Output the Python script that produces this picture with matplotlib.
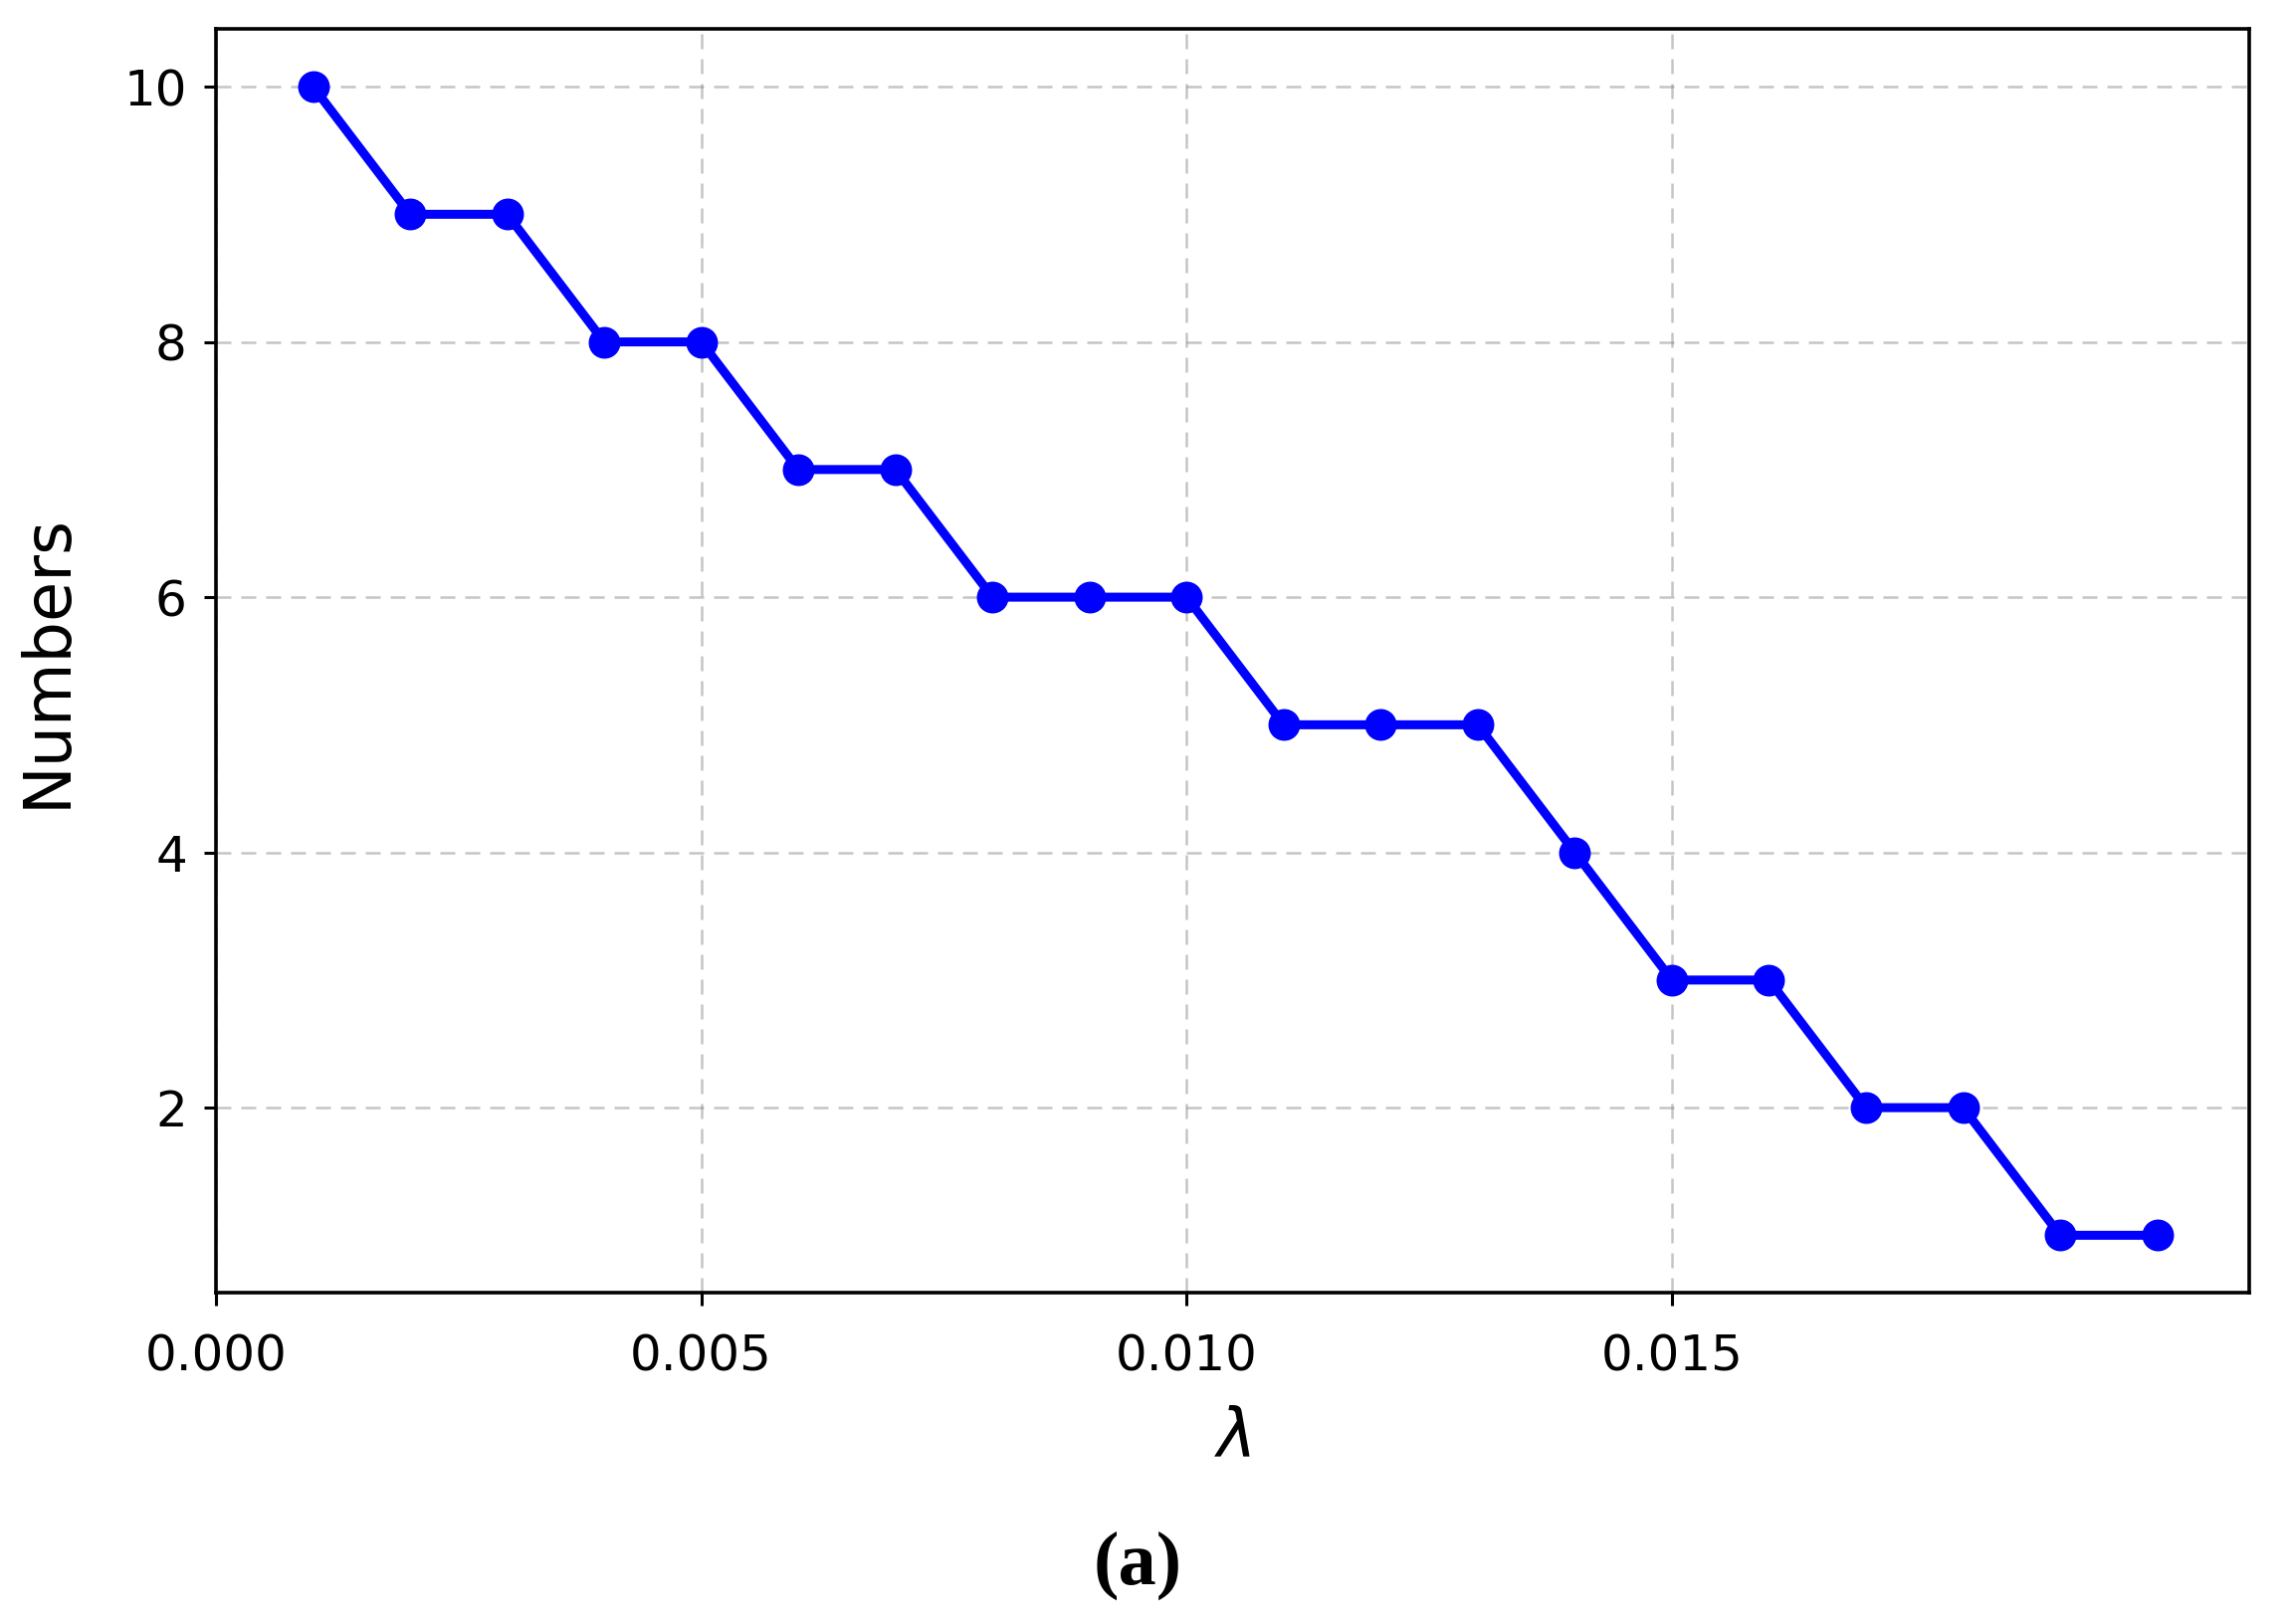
import numpy as np
import matplotlib
matplotlib.use("Agg")
import matplotlib.pyplot as plt

# ============== 数据 ==============
lam = [0.001, 0.002, 0.003, 0.004, 0.005, 0.006, 0.007, 0.008, 0.009, 0.010,
       0.011, 0.012, 0.013, 0.014, 0.015, 0.016, 0.017, 0.018, 0.019, 0.020]
numbers = [10, 9, 9, 8, 8, 7, 7, 6, 6, 6, 5, 5, 5, 4, 3, 3, 2, 2, 1, 1]
x_ticks = [0.000, 0.005, 0.010, 0.015]
y_ticks = [2, 4, 6, 8, 10]

# ============== 绘图 ==============
fig = plt.figure(figsize=(23.04, 16.32), dpi=100)
ax = fig.add_axes([0.0942, 0.204, 0.981 - 0.0942, 0.982 - 0.204])

ax.plot(lam, numbers, color='blue', marker='o', linewidth=6.5, markersize=22)

ax.set_xticks(x_ticks)
ax.set_yticks(y_ticks)
ax.set_xticklabels([f"{v:.3f}" for v in x_ticks])
ax.tick_params(labelsize=36, length=9, width=2.2)
ax.tick_params(axis='x', pad=20)
ax.tick_params(axis='y', pad=12)
ax.grid(True, linestyle='--', color='gray', alpha=0.45, linewidth=1.8, dashes=(6, 4))
for sp in ax.spines.values():
    sp.set_linewidth(2.6)

ax.set_xlabel(r'$\lambda$', fontsize=48, labelpad=18)
ax.set_ylabel('Numbers', fontsize=47, labelpad=32)

fig.text(0.496, 0.036, '(a)', fontsize=55, fontweight='bold',
         family='Liberation Serif', ha='center', va='center')

fig.savefig('out.png', dpi=100)
